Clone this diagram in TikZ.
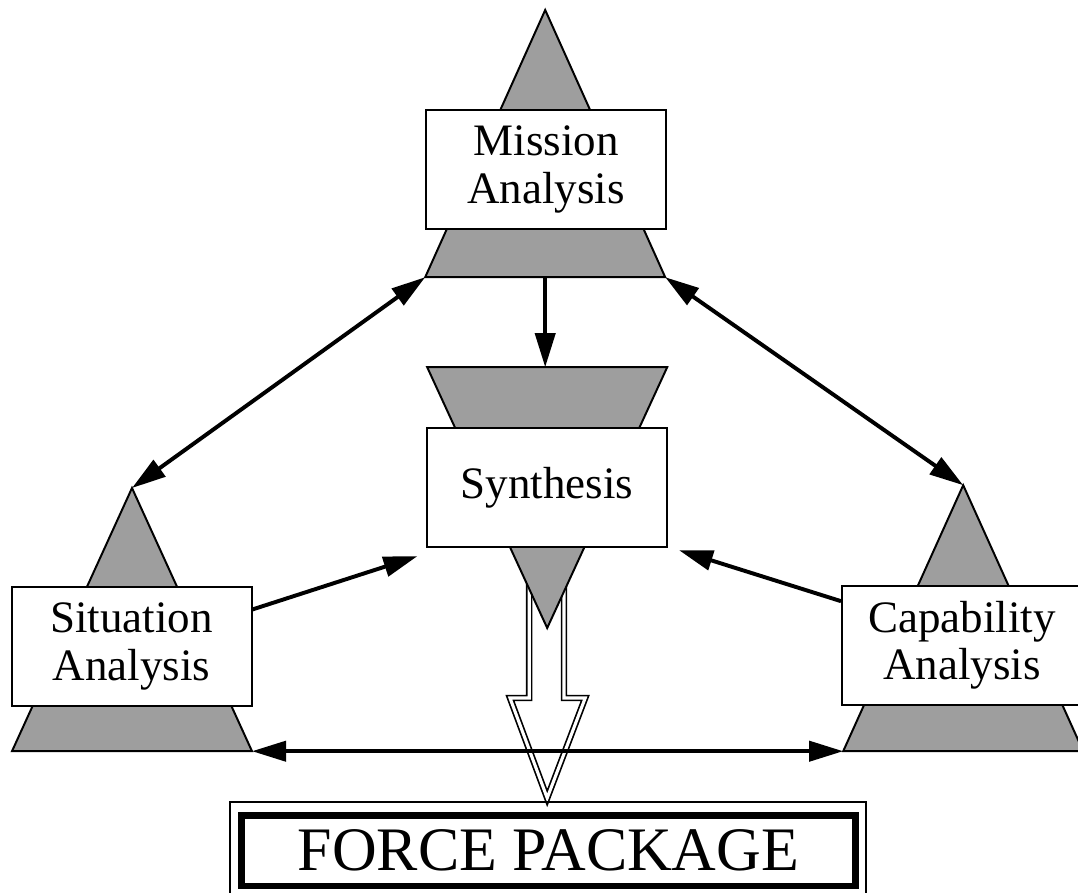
\documentclass[tikz,border=0pt]{standalone}
\usepackage{fontspec}
\setmainfont{Liberation Serif}
\providecommand{\fpColorTri}{black!38}
\providecommand{\fpColorBox}{white}
\providecommand{\fpStroke}{black}
\usetikzlibrary{arrows.meta,positioning,calc}
\tikzset{
  >={Triangle[length=0.85cm,width=0.5cm]},
  tri/.style={draw=\fpStroke,line width=1.4pt,fill=\fpColorTri,line join=miter},
  box/.style 2 args={draw=\fpStroke,line width=1.4pt,fill=\fpColorBox,minimum width=#1,minimum height=#2,inner sep=0pt,align=center,font=\fontsize{32}{34}\selectfont},
  % hollow block arrow drawn as a double outline
  hollow/.style={draw=\fpStroke,line width=1.2pt,double=white,double distance=2.2pt,line join=miter},
  pkg/.style={draw=\fpStroke,line width=4.5pt,fill=white,minimum width=15.35cm,minimum height=1.76cm,inner sep=0pt,font=\fontsize{44}{48}\selectfont},
  conn/.style={->,line width=2.8pt},
  dconn/.style={<->,line width=2.8pt},
}

\begin{document}
\begin{tikzpicture}
\useasboundingbox (0cm,0cm) rectangle (26.95cm,-22.30cm);

% --- Hollow output arrow (behind the synthesis triangle) -------------------

  \draw[hollow] (13.23cm,-14.00cm) -- (13.23cm,-17.45cm) -- (12.75cm,-17.45cm)
    -- (13.68cm,-19.95cm) -- (14.63cm,-17.45cm) -- (14.10cm,-17.45cm)
    -- (14.10cm,-14.00cm);

% --- Triangles -------------------------------------------------------------

  \coordinate (mis_top) at (13.63cm,-0.25cm);
  \coordinate (mis_l) at (10.63cm,-6.93cm);
  \coordinate (mis_r) at (16.63cm,-6.93cm);
  \coordinate (mis_b) at (13.63cm,-6.93cm);
  \draw[tri] (mis_top) -- (mis_l) -- (mis_r) -- cycle;

  \coordinate (syn_tl) at (10.68cm,-9.18cm);
  \coordinate (syn_tr) at (16.68cm,-9.18cm);
  \coordinate (syn_bot) at (13.68cm,-15.70cm);
  \draw[tri] (syn_tl) -- (syn_tr) -- (syn_bot) -- cycle;

  \coordinate (sit_top) at (3.30cm,-12.20cm);
  \coordinate (sit_l) at (0.30cm,-18.78cm);
  \coordinate (sit_r) at (6.30cm,-18.78cm);
  \draw[tri] (sit_top) -- (sit_l) -- (sit_r) -- cycle;

  \coordinate (cap_top) at (24.08cm,-12.13cm);
  \coordinate (cap_l) at (21.08cm,-18.78cm);
  \coordinate (cap_r) at (27.08cm,-18.78cm);
  \draw[tri] (cap_top) -- (cap_l) -- (cap_r) -- cycle;

% --- Boxes -----------------------------------------------------------------

  \node[box={6.00cm}{2.98cm}] (mis) at (13.65cm,-4.24cm) {Mission\\Analysis};

  \node[box={6.00cm}{2.98cm}] (syn) at (13.68cm,-12.19cm) {Synthesis};

  \node[box={6.00cm}{2.98cm}] (sit) at (3.29cm,-16.16cm) {Situation\\Analysis};

  \node[box={6.00cm}{2.98cm}] (cap) at (24.05cm,-16.13cm) {Capability\\Analysis};

  \node[pkg] (force) at (13.71cm,-21.27cm) {FORCE PACKAGE};
  \draw[line width=1.4pt] ([xshift=-0.21cm,yshift=0.26cm]force.north west)
    rectangle ([xshift=0.19cm,yshift=-0.25cm]force.south east);

% --- Edges -----------------------------------------------------------------

  \draw[dconn] (mis_l) -- (sit_top);

  \draw[dconn] (mis_r) -- (cap_top);

  \draw[dconn] (sit_r) -- (cap_l);

  \draw[conn] (mis_b) -- (mis_b |- syn_tl);

  \draw[conn] (sit.17) -- ([xshift=-0.22cm,yshift=-0.20cm]syn.south west);

  \draw[conn] (cap.160) -- ([xshift=0.27cm,yshift=-0.05cm]syn.south east);

\end{tikzpicture}
\end{document}
